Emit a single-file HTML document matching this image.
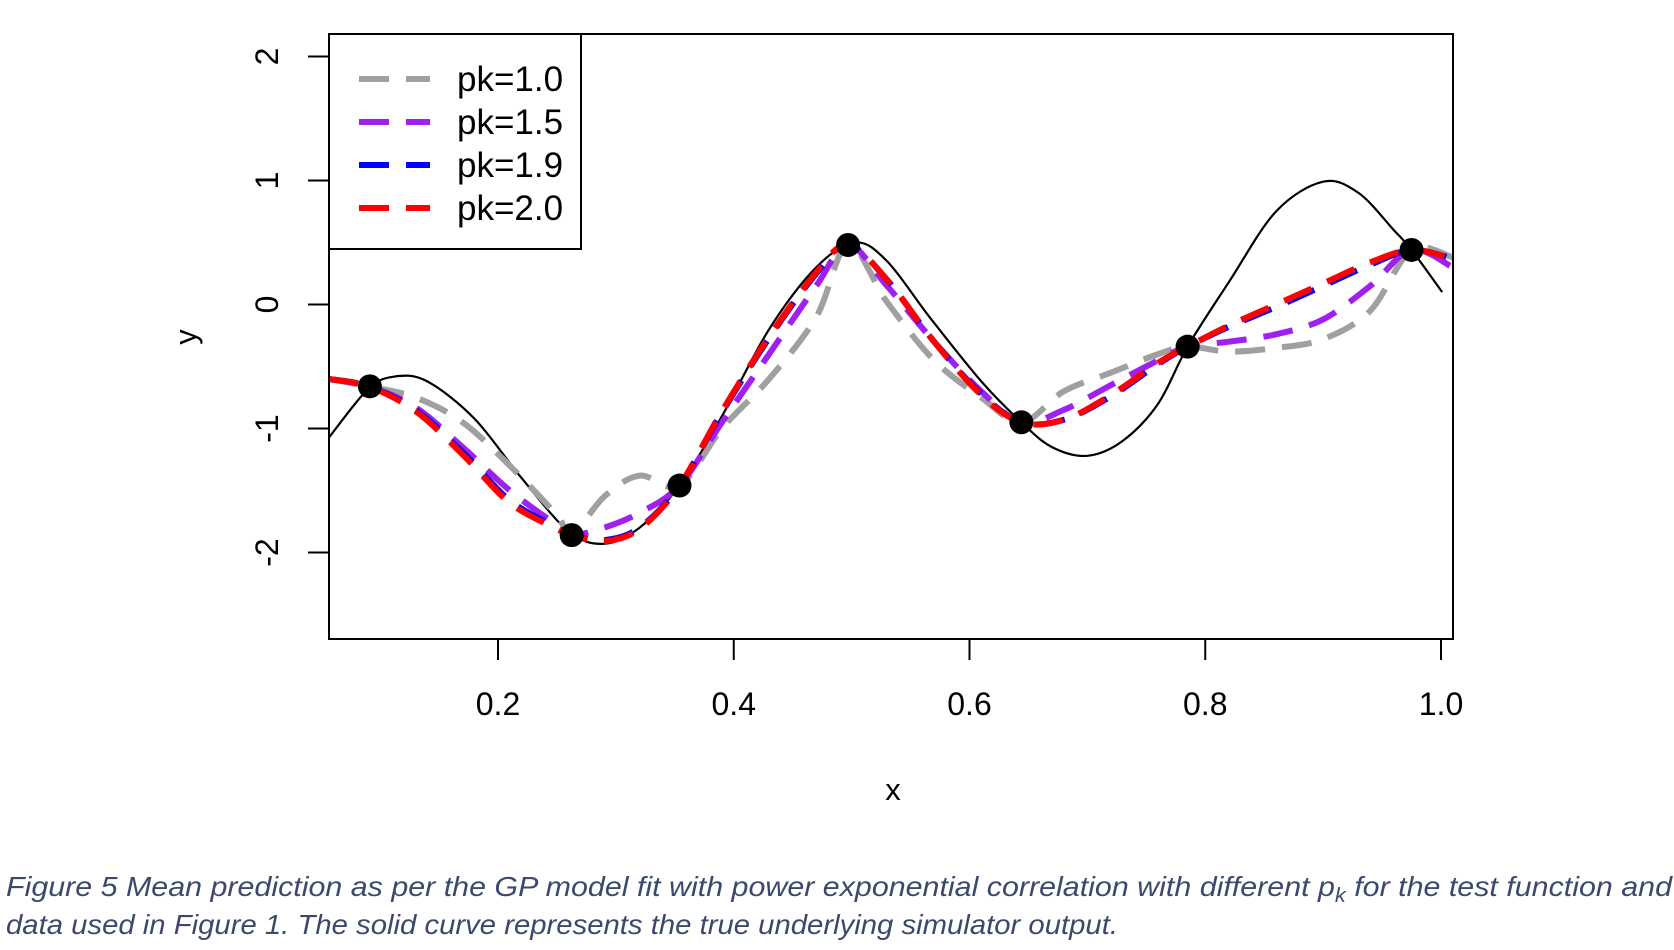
<!DOCTYPE html>
<html><head><meta charset="utf-8"><style>
html,body{margin:0;padding:0;background:#fff;}
svg{display:block;font-family:"Liberation Sans",Arial,sans-serif;}
</style></head><body>
<svg id="chart" width="1674" height="950" viewBox="0 0 1674 950" xmlns="http://www.w3.org/2000/svg">
<g id="plot"></g>
<g id="axes"></g>
<g id="legend">
  <rect x="329" y="34" width="252" height="215" fill="#fff" stroke="#000" stroke-width="2"/>
</g>
<text x="893" y="800" font-size="31" text-anchor="middle">x</text>
<text x="0" y="0" font-size="31" text-anchor="middle" transform="translate(196,337) rotate(-90)">y</text>
<g font-style="italic" fill="#3b4a6b" font-size="28" font-family="'Liberation Sans Narrow','Liberation Sans',sans-serif">
  <text x="6" y="896" textLength="1666" lengthAdjust="spacingAndGlyphs">Figure 5 Mean prediction as per the GP model fit with power exponential correlation with different  p<tspan font-size="20" dy="6">k</tspan><tspan dy="-6">  for the test function and</tspan></text>
  <text x="6" y="934" textLength="1112" lengthAdjust="spacingAndGlyphs">data used in Figure 1. The solid curve represents the true underlying simulator output.</text>
</g>
</svg>
<script>
const xTicks = [0.2, 0.4, 0.6, 0.8, 1.0];
const xTickLabels = ["0.2", "0.4", "0.6", "0.8", "1.0"];
const yTicks = [-2, -1, 0, 1, 2];
const yTickLabels = ["-2", "-1", "0", "1", "2"];
const seriesNames = ["pk=1.0", "pk=1.5", "pk=1.9", "pk=2.0"];
const seriesColors = ["#a0a0a0", "#a020f0", "#0000ff", "#ff0000"];
const gridX = [0.056,0.09,0.13,0.17,0.21,0.25,0.2625,0.29,0.32,0.354,0.39,0.43,0.47,0.497,0.53,0.57,0.61,0.644,0.68,0.72,0.76,0.785,0.82,0.86,0.9,0.94,0.975,1.01];
const pk10 = [-0.6,-0.66,-0.75,-0.95,-1.3,-1.7,-1.86,-1.55,-1.38,-1.46,-1.0,-0.6,-0.1,0.48,0.02,-0.45,-0.75,-0.95,-0.7,-0.55,-0.4,-0.34,-0.38,-0.35,-0.28,-0.05,0.44,0.38];
const pk15 = [-0.6,-0.66,-0.83,-1.15,-1.5,-1.78,-1.86,-1.8,-1.68,-1.46,-0.95,-0.4,0.15,0.48,0.15,-0.3,-0.7,-0.95,-0.85,-0.65,-0.45,-0.34,-0.3,-0.24,-0.12,0.15,0.44,0.3];
const pk19 = [-0.6,-0.66,-0.85,-1.19,-1.58,-1.8,-1.86,-1.9,-1.8,-1.46,-0.87,-0.27,0.25,0.48,0.2,-0.3,-0.72,-0.95,-0.93,-0.74,-0.48,-0.34,-0.18,-0.02,0.15,0.32,0.44,0.37];
const pk20 = [-0.6,-0.66,-0.86,-1.21,-1.6,-1.81,-1.86,-1.91,-1.81,-1.46,-0.86,-0.26,0.26,0.48,0.2,-0.3,-0.73,-0.95,-0.93,-0.73,-0.47,-0.34,-0.17,0.0,0.17,0.34,0.44,0.37];
const trueX = [0.056,0.09,0.113,0.14,0.18,0.22,0.26,0.29,0.32,0.354,0.39,0.43,0.47,0.503,0.53,0.566,0.61,0.644,0.67,0.7,0.73,0.76,0.785,0.82,0.86,0.9,0.93,0.96,0.975,1.001];
const trueY = [-1.08,-0.68,-0.58,-0.62,-0.92,-1.4,-1.83,-1.93,-1.8,-1.46,-0.9,-0.2,0.3,0.5,0.35,-0.1,-0.62,-0.95,-1.15,-1.22,-1.1,-0.8,-0.34,0.18,0.75,0.99,0.9,0.6,0.44,0.1];
const pointX = [0.0913,0.2625,0.354,0.497,0.644,0.785,0.975];
const pointY = [-0.66,-1.86,-1.46,0.48,-0.95,-0.34,0.44];

const NS = "http://www.w3.org/2000/svg";
const L = 329, R = 1453, T = 34, B = 639;
function sx(v){ return 262.25 + v * 1178.75; }
function sy(v){ return 304.5 - v * 124; }
function mk(tag, attrs, parent){ const e = document.createElementNS(NS, tag); for (const k in attrs) e.setAttribute(k, attrs[k]); parent.appendChild(e); return e; }
function smooth(xs, ys){
  const p = xs.map((x,i)=>[sx(x), sy(ys[i])]);
  let d = "M" + p[0][0].toFixed(1) + "," + p[0][1].toFixed(1);
  for (let i=0;i<p.length-1;i++){
    const p0=p[Math.max(0,i-1)], p1=p[i], p2=p[i+1], p3=p[Math.min(p.length-1,i+2)];
    const c1=[p1[0]+(p2[0]-p0[0])/6, p1[1]+(p2[1]-p0[1])/6];
    const c2=[p2[0]-(p3[0]-p1[0])/6, p2[1]-(p3[1]-p1[1])/6];
    d += " C"+c1[0].toFixed(1)+","+c1[1].toFixed(1)+" "+c2[0].toFixed(1)+","+c2[1].toFixed(1)+" "+p2[0].toFixed(1)+","+p2[1].toFixed(1);
  }
  return d;
}
const plot = document.getElementById("plot");
const axes = document.getElementById("axes");
const defs = mk("defs", {}, plot);
const cp = mk("clipPath", {id:"clip"}, defs);
mk("rect", {x:L, y:T, width:R-L, height:B-T}, cp);
const cg = mk("g", {"clip-path":"url(#clip)"}, plot);

const tl = mk("path", {d: smooth(trueX, trueY), fill:"none", stroke:"#000", "stroke-width":2.2}, cg);



const allSeries = [pk10, pk15, pk19, pk20];
allSeries.forEach((ys, i) => {
  const pth = mk("path", {d: smooth(gridX, ys), fill:"none", stroke:seriesColors[i], "stroke-width":6, "stroke-dasharray":"30 17", "stroke-linecap":"butt"}, cg);
  
  
});
pointX.forEach((x, i) => {
  const c = mk("circle", {cx: sx(x), cy: sy(pointY[i]), r: 12, fill:"#000"}, plot);
  
  
});

const frame = mk("rect", {x:L, y:T, width:R-L, height:B-T, fill:"none", stroke:"#000", "stroke-width":2}, axes);



xTicks.forEach((v, i) => {
  const t = mk("line", {x1:sx(v), x2:sx(v), y1:B, y2:B+21, stroke:"#000", "stroke-width":2}, axes);
  
  
  const lab = mk("text", {x:sx(v), y:715, "font-size":32, "text-anchor":"middle"}, axes);
  lab.textContent = xTickLabels[i];
  
  
});
yTicks.forEach((v, i) => {
  const t = mk("line", {x1:L-21, x2:L, y1:sy(v), y2:sy(v), stroke:"#000", "stroke-width":2}, axes);
  
  
  const lab = mk("text", {x:0, y:0, "font-size":32, "text-anchor":"middle", transform:"translate(278,"+sy(v)+") rotate(-90)"}, axes);
  lab.textContent = yTickLabels[i];
  
  
});

const legend = document.getElementById("legend");
seriesNames.forEach((n, i) => {
  const y = 79 + i * 43;
  const ln = mk("line", {x1:359, x2:430, y1:y, y2:y, stroke:seriesColors[i], "stroke-width":6, "stroke-dasharray":"30 17"}, legend);
  
  
  const tx = mk("text", {x:457, y:y+12, "font-size":35}, legend);
  tx.textContent = n;
  
  
});
</script>
</body></html>
